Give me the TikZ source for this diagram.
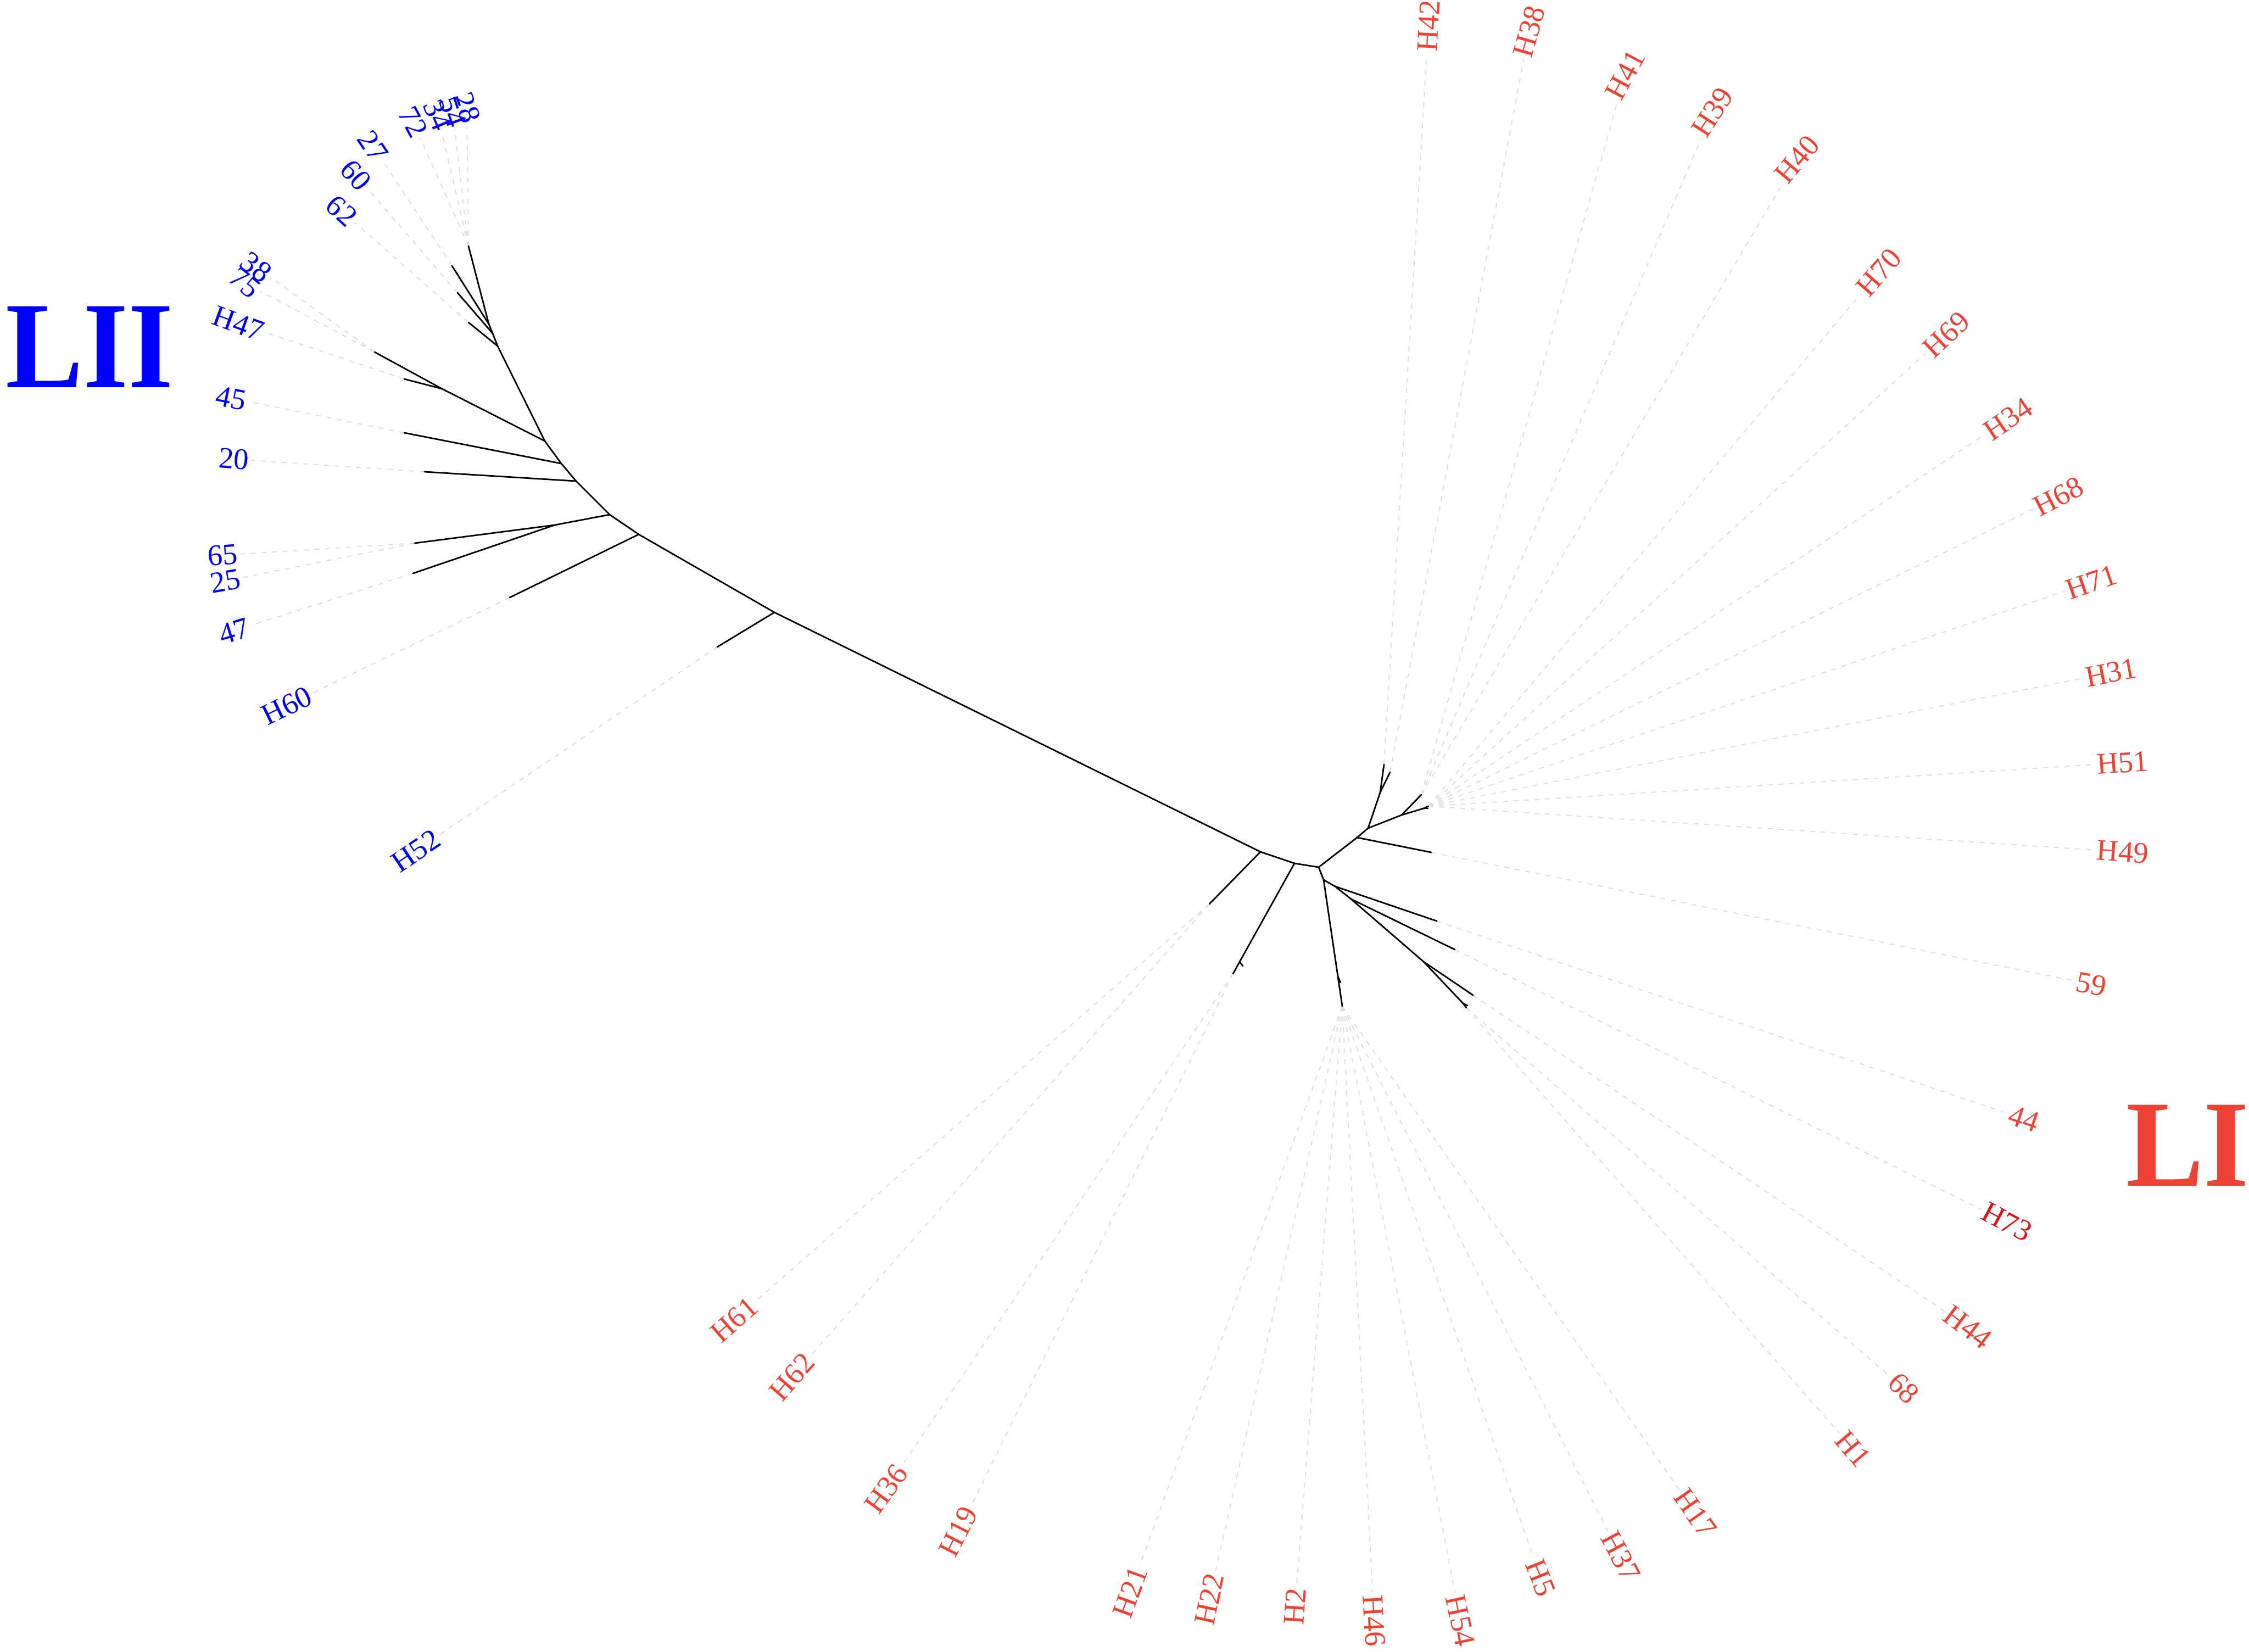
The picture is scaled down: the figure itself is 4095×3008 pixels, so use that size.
\documentclass[tikz,border=0pt]{standalone}
\usepackage{fontspec}
\setmainfont{Liberation Serif}
\definecolor{lired}{RGB}{238,66,52}
\definecolor{lidark}{RGB}{225,16,24}
\definecolor{liiblue}{RGB}{0,0,255}
\definecolor{leadgray}{RGB}{222,222,222}
\tikzset{
  branch/.style={line width=0.8pt, black, line cap=round},
  leader/.style={line width=0.55pt, leadgray, dash pattern=on 2.6pt off 2.9pt},
  lab/.style={font=\fontsize{15.5}{16}\selectfont, inner sep=1pt},
  redlab/.style={lab, text=lired},
  darkredlab/.style={lab, text=lidark},
  bluelab/.style={lab, text=liiblue},
  clade/.style={font=\fontsize{64}{64}\selectfont\bfseries, inner sep=0pt, xscale=0.94},
}
\newcommand\tlab[5]{\node[#1, rotate=#4] (#2) at (#3) {#5};}
\begin{document}
\begin{tikzpicture}[x=0.01cm,y=-0.01cm]
\useasboundingbox (0,0) rectangle (4095,3008);
\fill[white] (0,0) rectangle (4095,3008);

% ---------- LII clade coordinates ----------
\coordinate (N0) at (1410,1115);
\coordinate (T12) at (1306,1178);
\coordinate (N1) at (1163,973);
\coordinate (T11) at (928,1088);
\coordinate (N2) at (1110,937);
\coordinate (N2a) at (1010,956);
\coordinate (T9) at (755,989);
\coordinate (T10) at (752,1044);
\coordinate (N3) at (1049,876);
\coordinate (T8) at (773,859);
\coordinate (N4) at (1022,844);
\coordinate (T7) at (736,788);
\coordinate (N5) at (992,803);
\coordinate (N5a) at (805,708);
\coordinate (T5) at (682,641);
\coordinate (T6) at (736,690);
\coordinate (N6) at (906,630);
\coordinate (T4) at (853,587);
\coordinate (N7) at (897,607);
\coordinate (T3) at (833,533);
\coordinate (N8) at (890,590);
\coordinate (T2) at (823,484);
\coordinate (T1) at (853,448);

% ---------- LI clade coordinates ----------
\coordinate (A) at (2295,1551);
\coordinate (TA) at (2202,1646);
\coordinate (B) at (2357,1572);
\coordinate (Bs) at (2257,1751);
\coordinate (Bst) at (2263,1759);
\coordinate (TB) at (2245,1773);
\coordinate (C) at (2401,1579);
\coordinate (D) at (2471,1525);
\coordinate (TD) at (2606,1552);
\coordinate (E) at (2491,1508);
\coordinate (F) at (2513,1443);
\coordinate (TF1) at (2520,1392);
\coordinate (TF2) at (2531,1406);
\coordinate (G) at (2552,1484);
\coordinate (TG1) at (2588,1447);
\coordinate (G2) at (2592,1472);
\coordinate (TG2) at (2601,1468);
\coordinate (TG3) at (2600,1472);
\coordinate (H) at (2410,1602);
\coordinate (Hs) at (2436,1778);
\coordinate (Hst) at (2441,1789);
\coordinate (TH) at (2444,1832);
\coordinate (I) at (2431,1614);
\coordinate (TI) at (2616,1677);
\coordinate (J) at (2460,1637);
\coordinate (TJ) at (2649,1729);
\coordinate (K) at (2592,1751);
\coordinate (TK1) at (2682,1812);
\coordinate (K2) at (2664,1827);
\coordinate (TK2) at (2670,1835);
\coordinate (TK3) at (2672,1831);

% ---------- labels LII ----------
\tlab{bluelab}{lH52}{757,1549}{34}{H52}
\tlab{bluelab}{lH60}{522,1285}{26}{H60}
\tlab{bluelab}{l47}{426,1149}{17}{47}
\tlab{bluelab}{l25}{410,1058}{10}{25}
\tlab{bluelab}{l65}{405,1011}{4}{65}
\tlab{bluelab}{l20}{426,836}{-4}{20}
\tlab{bluelab}{l45}{421,725}{-11}{45}
\tlab{bluelab}{lH47}{434,589}{-20}{H47}
\tlab{bluelab}{l38}{466,486}{-38}{38}
\tlab{bluelab}{l75}{446,515}{-40}{75}
\tlab{bluelab}{l62}{622,384}{-42}{62}
\tlab{bluelab}{l60}{648,319}{-49}{60}
\tlab{bluelab}{l27}{679,266}{-56}{27}
\tlab{bluelab}{l28}{850,196}{-72}{28}
\tlab{bluelab}{l54}{824,203}{-70}{54}
\tlab{bluelab}{l34}{797,210}{-67}{34}
\tlab{bluelab}{l72}{752,222}{-62}{72}

% ---------- labels LI ----------
\tlab{redlab}{lH42}{2601,47}{87}{H42}
\tlab{redlab}{lH38}{2784,57}{74}{H38}
\tlab{redlab}{lH41}{2959,136}{62}{H41}
\tlab{redlab}{lH39}{3118,204}{57}{H39}
\tlab{redlab}{lH40}{3272,290}{50}{H40}
\tlab{redlab}{lH70}{3421,496}{49}{H70}
\tlab{redlab}{lH69}{3544,609}{43}{H69}
\tlab{redlab}{lH34}{3656,763}{34}{H34}
\tlab{redlab}{lH68}{3748,904}{27}{H68}
\tlab{redlab}{lH71}{3808,1060}{19}{H71}
\tlab{redlab}{lH31}{3844,1225}{11}{H31}
\tlab{redlab}{lH51}{3865,1389}{4}{H51}
\tlab{redlab}{lH49}{3865,1551}{-4}{H49}
\tlab{redlab}{l59}{3808,1792}{-11}{59}
\tlab{redlab}{l44}{3685,2037}{-19}{44}
\tlab{darkredlab}{lH73}{3654,2225}{-28}{H73}
\tlab{redlab}{lH44}{3583,2416}{-37}{H44}
\tlab{redlab}{l68}{3466,2528}{-44}{68}
\tlab{redlab}{lH1}{3374,2638}{-50}{H1}
\tlab{redlab}{lH17}{3087,2755}{-55}{H17}
\tlab{redlab}{lH37}{2951,2834}{-62}{H37}
\tlab{redlab}{lH5}{2805,2873}{-68}{H5}
\tlab{redlab}{lH54}{2659,2951}{-78}{H54}
\tlab{redlab}{lH46}{2502,2951}{-87}{H46}
\tlab{redlab}{lH2}{2358,2925}{86}{H2}
\tlab{redlab}{lH22}{2202,2912}{78}{H22}
\tlab{redlab}{lH21}{2058,2899}{70}{H21}
\tlab{redlab}{lH19}{1745,2789}{63}{H19}
\tlab{redlab}{lH36}{1614,2711}{54}{H36}
\tlab{redlab}{lH62}{1442,2507}{49}{H62}
\tlab{redlab}{lH61}{1337,2403}{41}{H61}

% ---------- clade names ----------
\node[clade, text=liiblue] (LII) at (163,632) {LII};
\node[clade, text=lired, anchor=west] (LI) at (3871,2086) {LI};

% ---------- leader lines ----------
\foreach \t/\l in {T12/lH52, T11/lH60, T10/l47, T9/l25, T9/l65, T8/l20, T7/l45,
  T6/lH47, T5/l38, T5/l75, T4/l62, T3/l60, T2/l27, T1/l28, T1/l54, T1/l34, T1/l72,
  TF1/lH42, TF2/lH38, TG1/lH41, TG1/lH39, TG1/lH40, TG2/lH70, TG2/lH69, TG2/lH34,
  TG2/lH68, TG2/lH71, TG2/lH31, TG2/lH51, TG2/lH49, TD/l59, TI/l44, TJ/lH73,
  TK1/lH44, TK2/l68, TK2/lH1, TH/lH17, TH/lH37, TH/lH5, TH/lH54, TH/lH46, TH/lH2,
  TH/lH22, TH/lH21, TB/lH19, TB/lH36, TA/lH62, TA/lH61}
  {\draw[leader] (\t) -- (\l);}

% ---------- branches LII ----------
\draw[branch] (A) -- (N0);
\draw[branch] (N0) -- (T12);
\draw[branch] (N0) -- (N1);
\draw[branch] (N1) -- (T11);
\draw[branch] (N1) -- (N2);
\draw[branch] (N2) -- (N2a);
\draw[branch] (N2a) -- (T9);
\draw[branch] (N2a) -- (T10);
\draw[branch] (N2) -- (N3);
\draw[branch] (N3) -- (T8);
\draw[branch] (N3) -- (N4);
\draw[branch] (N4) -- (T7);
\draw[branch] (N4) -- (N5);
\draw[branch] (N5) -- (N5a);
\draw[branch] (N5a) -- (T5);
\draw[branch] (N5a) -- (T6);
\draw[branch] (N5) -- (N6);
\draw[branch] (N6) -- (T4);
\draw[branch] (N6) -- (N7);
\draw[branch] (N7) -- (T3);
\draw[branch] (N7) -- (N8);
\draw[branch] (N8) -- (T2);
\draw[branch] (N8) -- (T1);

% ---------- branches LI ----------
\draw[branch] (A) -- (TA);
\draw[branch] (A) -- (B);
\draw[branch] (B) -- (TB);
\draw[branch] (Bs) -- (Bst);
\draw[branch] (B) -- (C);
\draw[branch] (C) -- (D);
\draw[branch] (D) -- (TD);
\draw[branch] (D) -- (E);
\draw[branch] (E) -- (F);
\draw[branch] (F) -- (TF1);
\draw[branch] (F) -- (TF2);
\draw[branch] (E) -- (G);
\draw[branch] (G) -- (TG1);
\draw[branch] (G) -- (G2);
\draw[branch] (G2) -- (TG2);
\draw[branch] (G2) -- (TG3);
\draw[branch] (C) -- (H);
\draw[branch] (H) -- (TH);
\draw[branch] (Hs) -- (Hst);
\draw[branch] (H) -- (I);
\draw[branch] (I) -- (TI);
\draw[branch] (I) -- (J);
\draw[branch] (J) -- (TJ);
\draw[branch] (J) -- (K);
\draw[branch] (K) -- (TK1);
\draw[branch] (K) -- (K2);
\draw[branch] (K2) -- (TK2);
\draw[branch] (K2) -- (TK3);
\end{tikzpicture}
\end{document}
